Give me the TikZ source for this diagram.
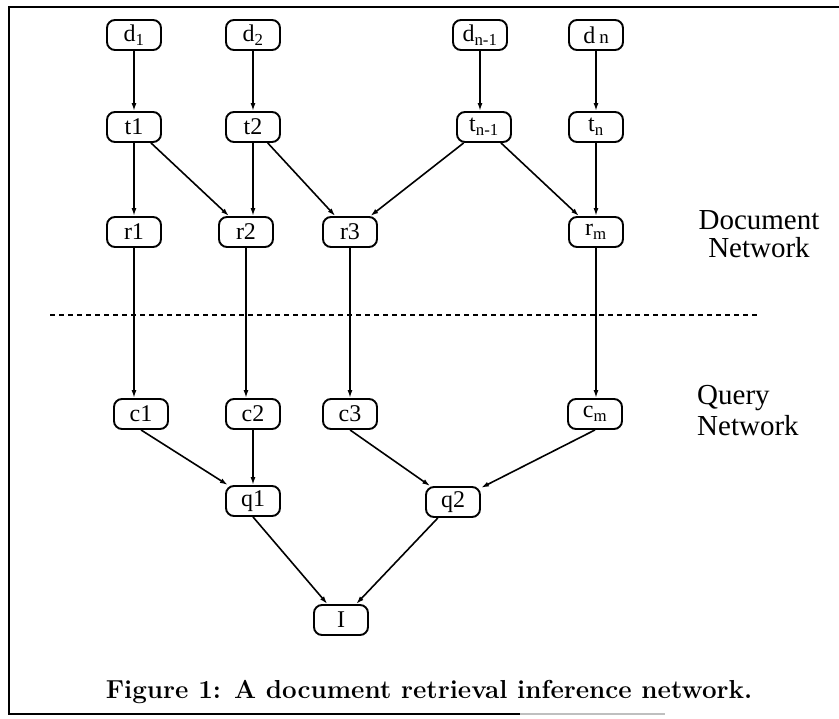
\documentclass[tikz,border=0pt]{standalone}
\usepackage{fontspec}
\newfontfamily\nodefont{Liberation Serif}
\usetikzlibrary{arrows.meta}
\begin{document}
\begin{tikzpicture}[x=1pt,y=-1pt,
  box/.style={draw, line width=1.9pt, rounded corners=8pt, minimum width=54pt,
    minimum height=30pt, inner sep=0pt, font=\nodefont\fontsize{24}{24}\selectfont},
  arr/.style={-{Latex[length=8pt,width=5pt]}, line width=1.6pt},
  lbl/.style={font=\nodefont\fontsize{29}{29}\selectfont, inner sep=0pt},
  frame/.style={line width=1.6pt},
  sep/.style={line width=1.6pt, dash pattern=on 5pt off 4pt},
]
\useasboundingbox (0,0) rectangle (839,719);
% frame (open on the right)
\draw[frame] (839,7) -- (9,7) -- (9,714) -- (520,714);
\draw[frame, gray!50] (520,714) -- (665,714);

% nodes
\node[box] (d1)  at (134,35)  {d\textsubscript{1}};
\node[box] (d2)  at (253,35)  {d\textsubscript{2}};
\node[box] (dn1) at (480,35)  {d\textsubscript{n-1}};
\node[box] (dn)  at (596,35)  {d\,{\fontsize{19}{19}\selectfont n}};

\node[box] (t1)  at (134,127) {t1};
\node[box] (t2)  at (253,127) {t2};
\node[box] (tn1) at (484,127) {t\textsubscript{n-1}};
\node[box] (tn)  at (596,127) {t\textsubscript{n}};

\node[box] (r1)  at (134,232) {r1};
\node[box] (r2)  at (246,232) {r2};
\node[box] (r3)  at (350,232) {r3};
\node[box] (rm)  at (596,232) {r\textsubscript{m}};

\node[box] (c1)  at (141,414) {c1};
\node[box] (c2)  at (253,414) {c2};
\node[box] (c3)  at (350,414) {c3};
\node[box] (cm)  at (595,414) {c\textsubscript{m}};

\node[box] (q1)  at (253,501) {q1};
\node[box] (q2)  at (453,502) {q2};

\node[box] (I)   at (341,620) {I};

% side labels
\node[lbl, anchor=base] (doc1) at (759,230) {Document};
\node[lbl, anchor=base] (doc2) at (759,258) {Network};
\node[lbl, anchor=base west] (qry1) at (697,405) {Query};
\node[lbl, anchor=base west] (qry2) at (697,436) {Network};

% separator
\draw[sep] (50,315) -- (760,315);

% caption
\node[anchor=base, inner sep=0pt, font=\bfseries\fontsize{26}{26}\selectfont] (cap) at (429,698)
  {Figure 1: A document retrieval inference network.};

% connectors
\draw[arr] (d1) -- (t1);
\draw[arr] (d2) -- (t2);
\draw[arr] (dn1.south) -- (dn1.south |- tn1.north);
\draw[arr] (dn.south) -- (dn.south |- tn.north);

\draw[arr] (t1) -- (r1);
\draw[arr] (t1) -- (r2);
\draw[arr] (t2.south) -- (t2.south |- r2.north);
\draw[arr] (t2) -- (r3);
\draw[arr] (tn1) -- (r3);
\draw[arr] (tn1) -- (rm);
\draw[arr] (tn) -- (rm);

\draw[arr] (r1.south) -- (r1.south |- c1.north);
\draw[arr] (r2.south) -- (r2.south |- c2.north);
\draw[arr] (r3) -- (c3);
\draw[arr] (rm.south) -- (rm.south |- cm.north);

\draw[arr] (c1.south) -- (q1);
\draw[arr] (c2) -- (q1);
\draw[arr] (c3.south) -- (q2);
\draw[arr] (cm.south) -- (q2);

\draw[arr] (q1.south) -- (I);
\draw[arr] (q2) -- (I);
\end{tikzpicture}
\end{document}
